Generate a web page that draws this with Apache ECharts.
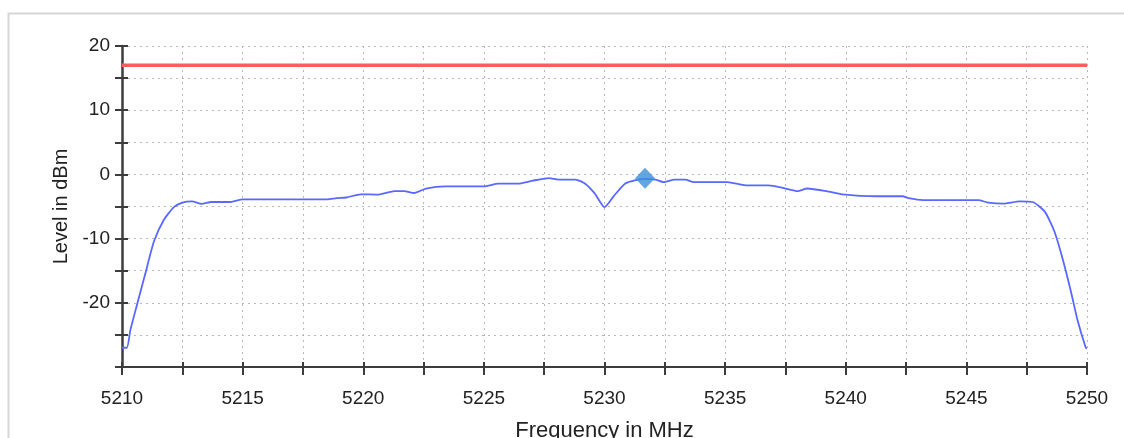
<!DOCTYPE html>
<html>
<head>
<meta charset="utf-8">
<script src="https://cdn.jsdelivr.net/npm/echarts@6/dist/echarts.min.js"></script>
<style>
html,body{margin:0;padding:0;background:#fff;}
#c{width:1124px;height:438px;}
</style>
</head>
<body>
<div id="c"></div>
<script>
// ---- data ----
const freqMHz = [5210.0, 5210.2, 5210.35, 5210.6, 5210.97, 5211.32, 5211.73, 5212.15, 5212.5, 5212.9,
  5213.3, 5213.7, 5214.5, 5215.0, 5218.5, 5218.9, 5219.3, 5219.9, 5220.6, 5221.3,
  5221.7, 5222.1, 5222.6, 5223.4, 5225.0, 5225.6, 5226.4, 5227.0, 5227.7, 5228.1,
  5228.8, 5229.2, 5229.6, 5230.0, 5230.4, 5230.85, 5231.3, 5231.7, 5232.1, 5232.45,
  5232.9, 5233.35, 5233.7, 5235.1, 5235.85, 5236.8, 5237.5, 5238.0, 5238.4, 5239.2,
  5239.85, 5241.25, 5242.35, 5242.6, 5243.2, 5245.5, 5245.9, 5246.6, 5247.2, 5247.75,
  5248.25, 5248.65, 5249.0, 5249.35, 5249.6, 5249.95, 5250.0];
const levelDBm = [-27.0, -27.0, -24.2, -20.6, -15.4, -10.5, -7.1, -5.1, -4.4, -4.2,
  -4.6, -4.3, -4.3, -3.9, -3.9, -3.7, -3.6, -3.1, -3.15, -2.6,
  -2.6, -2.9, -2.2, -1.86, -1.86, -1.45, -1.45, -1.0, -0.57, -0.8,
  -0.8, -1.45, -3.0, -5.1, -3.3, -1.45, -0.9, -0.7, -0.8, -1.2,
  -0.8, -0.8, -1.2, -1.2, -1.7, -1.7, -2.2, -2.6, -2.2, -2.6,
  -3.1, -3.4, -3.4, -3.7, -4.0, -4.0, -4.4, -4.55, -4.2, -4.3,
  -5.8, -8.9, -13.3, -18.5, -22.6, -27.0, -27.1];
const limitFreq = [5210, 5250];
const limitLevel = [17, 17];
const markerFreq = [5231.68];
const markerLevel = [-0.6];
const xRange = [5210, 5250];
const yRange = [-30, 20];

// ---- chart ----
const chart = echarts.init(document.getElementById('c'), null, {renderer: 'canvas'});
const font = 'Liberation Sans, Arial, Helvetica, sans-serif';
const gridLine = {show: true, lineStyle: {color: '#b8b8b8', width: 1, type: [2, 4]}};
const axisCol = '#3c3c3c';

const zip = (a, b) => a.map((v, i) => [v, b[i]]);

chart.setOption({
  animation: false,
  backgroundColor: '#fff',
  graphic: [{
    type: 'rect', left: 6, top: 11, silent: true,
    shape: {width: 1200, height: 500},
    style: {fill: 'none', stroke: '#d6d6d6', lineWidth: 2}
  }],
  grid: {left: 122, right: 37, top: 46, bottom: 71, containLabel: false, outerBoundsMode: 'none'},
  xAxis: [{
    type: 'value', min: xRange[0], max: xRange[1], interval: 2.5, position: 'bottom',
    name: 'Frequency in MHz', nameLocation: 'middle', nameGap: 53,
    nameTextStyle: {fontFamily: font, fontSize: 22, color: '#222'},
    axisLine: {show: true, onZero: false, lineStyle: {color: axisCol, width: 2}},
    axisTick: {show: true, inside: false, length: 8, lineStyle: {color: axisCol, width: 2}},
    axisLabel: {margin: 22, fontFamily: font, fontSize: 19, color: '#222',
      formatter: v => (Math.abs(v % 5) < 1e-6 ? String(v) : '')},
    splitLine: gridLine
  }, {
    type: 'value', min: xRange[0], max: xRange[1], interval: 2.5, position: 'bottom',
    axisLine: {show: false, onZero: false},
    axisTick: {show: true, inside: true, length: 5, lineStyle: {color: axisCol, width: 2}},
    axisLabel: {show: false}, splitLine: {show: false}
  }],
  yAxis: [{
    type: 'value', min: yRange[0], max: yRange[1], interval: 5, position: 'left',
    name: 'Level in dBm', nameLocation: 'middle', nameGap: 51, nameRotate: 90,
    nameTextStyle: {fontFamily: font, fontSize: 20, color: '#222'},
    axisLine: {show: true, onZero: false, lineStyle: {color: axisCol, width: 2.5}},
    axisTick: {show: true, inside: false, length: 7, lineStyle: {color: axisCol, width: 2}},
    axisLabel: {margin: 12, fontFamily: font, fontSize: 19, color: '#222',
      formatter: v => (v % 10 === 0 && v > yRange[0] ? String(v) : '')},
    splitLine: gridLine
  }, {
    type: 'value', min: yRange[0], max: yRange[1], interval: 5, position: 'left',
    axisLine: {show: false, onZero: false},
    axisTick: {show: true, inside: true, length: 6, lineStyle: {color: axisCol, width: 2}},
    axisLabel: {show: false}, splitLine: {show: false}
  }],
  series: [{
    type: 'line', xAxisIndex: 0, yAxisIndex: 0, data: zip(limitFreq, limitLevel),
    symbol: 'none', lineStyle: {color: '#ff5c5c', width: 3.5}, silent: true, z: 3
  }, {
    type: 'line', xAxisIndex: 0, yAxisIndex: 0, data: zip(freqMHz, levelDBm),
    symbol: 'none', smooth: 0.2, lineStyle: {color: '#5a68ff', width: 1.8}, silent: true, z: 4
  }, {
    type: 'scatter', xAxisIndex: 0, yAxisIndex: 0, data: zip(markerFreq, markerLevel),
    symbol: 'diamond', symbolSize: [20, 21], itemStyle: {color: '#3a8fda'}, silent: true, z: 5
  }]
});
</script>
</body>
</html>
